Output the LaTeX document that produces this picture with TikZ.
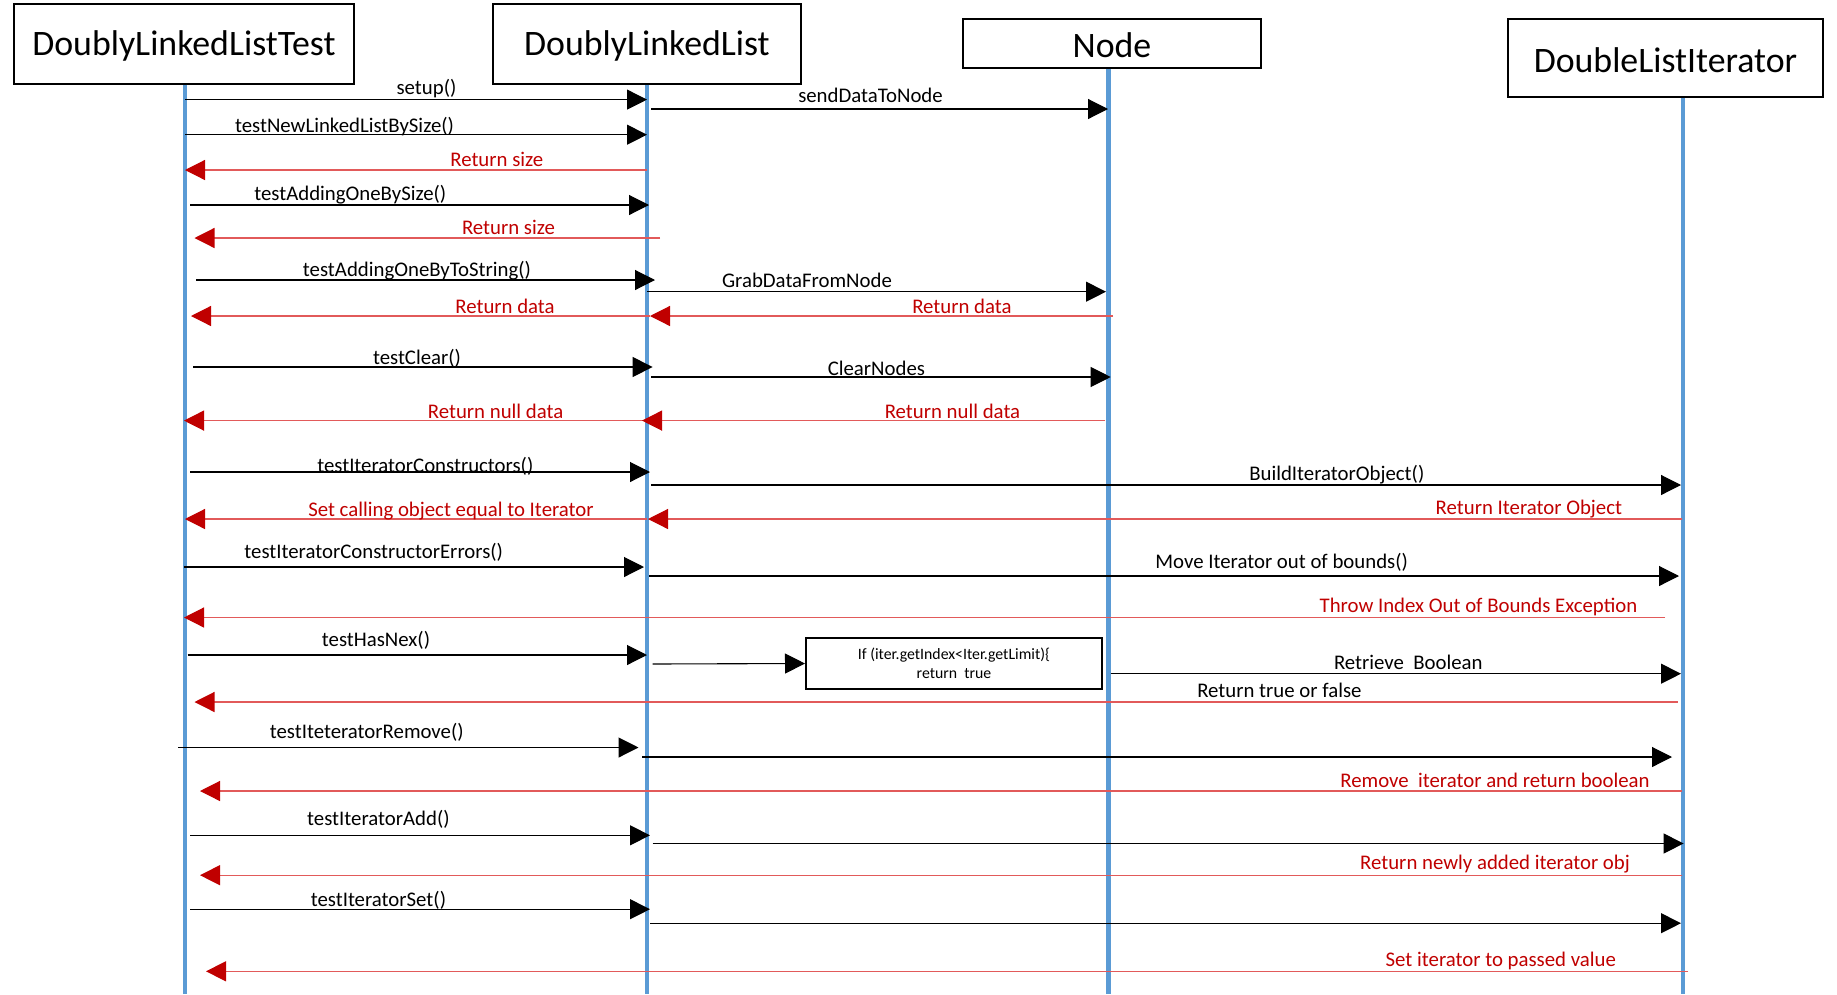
\documentclass[tikz,border=0pt]{standalone}
\usepackage{fontspec}
\setmainfont{Carlito}
\usetikzlibrary{arrows.meta}
\definecolor{lifeblue}{RGB}{91,155,213}
\definecolor{retline}{RGB}{226,90,90}
\definecolor{rettext}{RGB}{192,0,0}
\newcommand{\msgline}[9]{%
  \coordinate (#1s) at (#3,#2);
  \coordinate (#1e) at (#4,#2);
  \draw[#5] (#1s) -- (#1e);
  \node[#6] (#1l) at (#8,#9+1.5) {#7};
}
\begin{document}
\begin{tikzpicture}[x=1pt,y=-1pt,
  titlebox/.style={draw, line width=2pt, inner sep=0pt, font=\fontsize{35.8}{40}\selectfont},
  titletext/.style={inner sep=0pt, font=\fontsize{35.8}{40}\selectfont},
  life/.style={draw=lifeblue, line width=4.2pt},
  callarr/.style={black, line width=1.1pt, -{Triangle[length=20pt,width=20pt]}},
  retarr/.style={retline, line width=1.2pt, -{Triangle[length=20pt,width=20pt,color=rettext]}},
  calllbl/.style={inner sep=0pt, font=\fontsize{20.8}{24}\selectfont, text=black},
  retlbl/.style={inner sep=0pt, font=\fontsize{20.8}{24}\selectfont, text=rettext},
  condbox/.style={draw, line width=2pt, inner sep=0pt, align=center, font=\fontsize{15.8}{19}\selectfont}
]
\useasboundingbox (0,0) rectangle (1837,994);
\fill[white] (0,0) rectangle (1837,994);

% participants
\node[titlebox, minimum width=340pt, minimum height=80.5pt] (dllt) at (184,43.75) {};
\node[titletext] (dlltt) at (184,46) {DoublyLinkedListTest};
\node[titlebox, minimum width=308pt, minimum height=80.5pt] (dll) at (647,43.75) {};
\node[titletext] (dllt2) at (647,46) {DoublyLinkedList};
\node[titlebox, minimum width=298pt, minimum height=49pt] (nd) at (1112,43.5) {};
\node[titletext] (ndt) at (1112,45.5) {Node};
\node[titlebox, minimum width=315pt, minimum height=78pt] (dli) at (1665.5,58) {};
\node[titletext] (dlit) at (1665.5,60) {DoubleListIterator};

% lifelines
\coordinate (la1) at (185,84.9); \coordinate (la2) at (185,994);
\coordinate (lb1) at (647,84.9); \coordinate (lb2) at (647,994);
\coordinate (lc1) at (1108.5,68.9); \coordinate (lc2) at (1108.5,994);
\coordinate (ld1) at (1683,97.9); \coordinate (ld2) at (1683,994);
\draw[life] (la1) -- (la2);
\draw[life] (lb1) -- (lb2);
\draw[life] (lc1) -- (lc2);
\draw[life] (ld1) -- (ld2);

% condition box
\node[condbox, minimum width=296pt, minimum height=51pt] (cond) at (954,663.5) {If (iter.getIndex<Iter.getLimit)\{\\return~~true};

% messages
\msgline{m1}{99.6}{185}{647}{callarr}{calllbl}{setup()}{426.5}{86.7}
\msgline{m2}{109}{651}{1108}{callarr}{calllbl}{sendDataToNode}{870.5}{93.7}
\msgline{m3}{134.7}{185}{647}{callarr}{calllbl}{testNewLinkedListBySize()}{344.5}{125.4}
\msgline{m4}{170}{647}{185}{retarr}{retlbl}{Return size}{496.8}{158.2}
\msgline{m5}{205}{190}{649}{callarr}{calllbl}{testAddingOneBySize()}{350.3}{193.3}
\msgline{m6}{238}{660}{194.5}{retarr}{retlbl}{Return size}{508.5}{226.1}
\msgline{m7}{280}{196}{655}{callarr}{calllbl}{testAddingOneByToString()}{417}{269.5}
\msgline{m8}{291.7}{647}{1106}{callarr}{calllbl}{GrabDataFromNode}{807}{278.8}
\msgline{m9}{316}{1113}{650}{retarr}{retlbl}{Return data}{961.9}{304.6}
\msgline{m10}{316}{650}{191}{retarr}{retlbl}{Return data}{505}{304.6}
\msgline{m11}{367}{193}{652.6}{callarr}{calllbl}{testClear()}{417}{357.3}
\msgline{m12}{377}{651}{1110.7}{callarr}{calllbl}{ClearNodes}{876.4}{366.7}
\msgline{m13}{420.6}{647}{184}{retarr}{retlbl}{Return null data}{495.6}{410}
\msgline{m14}{420.6}{1105}{642}{retarr}{retlbl}{Return null data}{952.5}{410}
\msgline{m15}{472}{190}{650}{callarr}{calllbl}{testIteratorConstructors()}{425.3}{465.1}
\msgline{m16}{485}{651}{1681}{callarr}{calllbl}{BuildIteratorObject()}{1336.8}{473.3}
\msgline{m17}{519}{647}{185}{retarr}{retlbl}{Set calling object equal to Iterator}{451}{509.6}
\msgline{m18}{519}{1682}{648}{retarr}{retlbl}{Return Iterator Object}{1528.9}{507.3}
\msgline{m19}{567}{184}{644}{callarr}{calllbl}{testIteratorConstructorErrors()}{373.7}{550.7}
\msgline{m20}{576}{649}{1679}{callarr}{calllbl}{Move Iterator out of bounds()}{1281.7}{561.2}
\msgline{m21}{617.5}{1665}{184}{retarr}{retlbl}{Throw Index Out of Bounds Exception}{1478.5}{605.7}
\msgline{m22}{655}{187.5}{647}{callarr}{calllbl}{testHasNex()}{376}{638.5}
\coordinate (m23s) at (652.6,664);
\draw[callarr] (m23s) -- (cond.west);
\msgline{m24}{673.7}{1110.7}{1681}{callarr}{calllbl}{Retrieve~~Boolean}{1408.3}{660.8}
\msgline{m25}{702}{1677.7}{194.5}{retarr}{calllbl}{Return true or false}{1279.4}{688.9}
\msgline{m26}{747.5}{178}{638.5}{callarr}{calllbl}{testIteteratorRemove()}{366.7}{731.1}
\coordinate (m27s) at (642,757); \coordinate (m27e) at (1672,757);
\draw[callarr] (m27s) -- (m27e);
\msgline{m28}{791}{1682}{200}{retarr}{retlbl}{Remove~~iterator and return boolean}{1495}{779.1}
\msgline{m29}{835.3}{190}{650}{callarr}{calllbl}{testIteratorAdd()}{378.4}{817.8}
\coordinate (m30s) at (652.6,843.5); \coordinate (m30e) at (1683.6,843.5);
\draw[callarr] (m30s) -- (m30e);
\msgline{m31}{875.2}{1682}{200}{retarr}{retlbl}{Return newly added iterator obj}{1495}{862.3}
\msgline{m32}{909.2}{190}{650}{callarr}{calllbl}{testIteratorSet()}{378.4}{898.6}
\coordinate (m33s) at (650,923.2); \coordinate (m33e) at (1681,923.2);
\draw[callarr] (m33s) -- (m33e);
\msgline{m34}{971.3}{1688}{206}{retarr}{retlbl}{Set iterator to passed value}{1500.8}{959.5}
\end{tikzpicture}
\end{document}
